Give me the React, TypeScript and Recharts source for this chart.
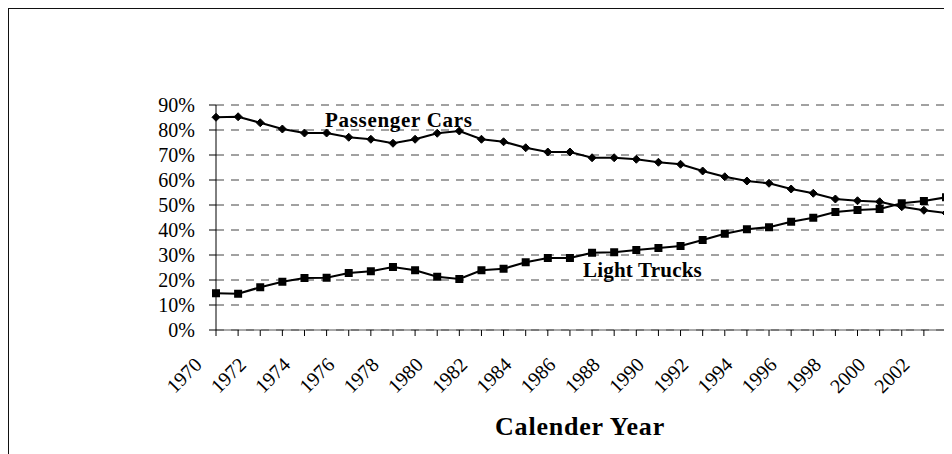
import { LineChart, Line, XAxis, YAxis, CartesianGrid } from "recharts";

const years = [
  1970, 1971, 1972, 1973, 1974, 1975, 1976, 1977, 1978, 1979, 1980, 1981,
  1982, 1983, 1984, 1985, 1986, 1987, 1988, 1989, 1990, 1991, 1992, 1993,
  1994, 1995, 1996, 1997, 1998, 1999, 2000, 2001, 2002, 2003,
];

// share of sales, percent
const passengerCars = [
  85.1, 85.3, 82.9, 80.4, 78.8, 78.8, 77.1, 76.3, 74.7, 76.3, 78.7, 79.6,
  76.3, 75.3, 72.9, 71.2, 71.2, 68.9, 68.9, 68.3, 67.1, 66.3, 63.6, 61.3,
  59.6, 58.7, 56.4, 54.7, 52.4, 51.7, 51.3, 49.3, 47.9, 46.8,
];

const lightTrucks = [
  14.7, 14.5, 17.1, 19.3, 20.8, 20.9, 22.8, 23.5, 25.2, 23.9, 21.3, 20.4,
  23.9, 24.5, 27.1, 28.8, 28.8, 30.9, 31.1, 32.0, 32.8, 33.6, 36.0, 38.5,
  40.3, 41.1, 43.3, 44.9, 47.2, 48.0, 48.4, 50.7, 51.6, 53.1,
];

const xTickLabels = [
  1970, 1972, 1974, 1976, 1978, 1980, 1982, 1984, 1986, 1988, 1990, 1992,
  1994, 1996, 1998, 2000, 2002,
];

const yTicks = [0, 10, 20, 30, 40, 50, 60, 70, 80, 90];

const data = years.map((year, i) => ({
  year,
  cars: passengerCars[i],
  trucks: lightTrucks[i],
}));

const FONT = '"Liberation Serif", "Times New Roman", serif';

function Diamond(props: any) {
  const { cx, cy } = props;
  if (cx == null || cy == null) return null;
  const r = 4;
  return (
    <path
      d={`M${cx},${cy - r} L${cx + r},${cy} L${cx},${cy + r} L${cx - r},${cy} Z`}
      fill="#000"
      stroke="#000"
    />
  );
}

function Square(props: any) {
  const { cx, cy } = props;
  if (cx == null || cy == null) return null;
  return <rect x={cx - 4} y={cy - 4} width={8} height={8} fill="#000" />;
}

function YearTick(props: any) {
  const { x, y, payload } = props;
  if (!xTickLabels.includes(payload.value)) return <g />;
  return (
    <text
      transform={`translate(${x - 13},${y + 28}) rotate(-45)`}
      textAnchor="end"
      fontFamily={FONT}
      fontSize={20}
      fill="#000"
    >
      {payload.value}
    </text>
  );
}

export default function App() {
  return (
    <div
      style={{
        position: "relative",
        width: 944,
        height: 446,
        boxSizing: "border-box",
        borderLeft: "1px solid #111",
        borderTop: "1px solid #111",
        background: "#fff",
      }}
    >
      <LineChart
        width={943}
        height={445}
        data={data}
        margin={{ top: 96, right: 6, bottom: 64, left: 0 }}
      >
        <CartesianGrid
          horizontal
          vertical={false}
          stroke="#444"
          strokeDasharray="8 7"
        />
        <XAxis
          dataKey="year"
          type="number"
          domain={[1970, 2003]}
          ticks={years}
          interval={0}
          height={60}
          tickSize={6}
          axisLine={{ stroke: "#555" }}
          tickLine={{ stroke: "#000" }}
          tick={<YearTick />}
        />
        <YAxis
          width={207}
          domain={[0, 90]}
          ticks={yTicks}
          interval={0}
          tickSize={7}
          tickMargin={14}
          tickFormatter={(v) => `${v}%`}
          axisLine={{ stroke: "#000" }}
          tickLine={{ stroke: "#000" }}
          tick={{ fontFamily: FONT, fontSize: 20, fill: "#000" }}
        />
        <Line
          dataKey="cars"
          stroke="#000"
          strokeWidth={2.2}
          dot={<Diamond />}
          isAnimationActive={false}
        />
        <Line
          dataKey="trucks"
          stroke="#000"
          strokeWidth={2.2}
          dot={<Square />}
          isAnimationActive={false}
        />
      </LineChart>
      <svg
        width={943}
        height={445}
        style={{ position: "absolute", left: 0, top: 0, pointerEvents: "none" }}
      >
        <text
          x={316}
          y={118}
          fontFamily={FONT}
          fontSize={21}
          fontWeight="bold"
          letterSpacing={0.7}
        >
          Passenger Cars
        </text>
        <text
          x={574}
          y={268}
          fontFamily={FONT}
          fontSize={21}
          fontWeight="bold"
          letterSpacing={0.2}
        >
          Light Trucks
        </text>
        <text
          x={571}
          y={426}
          textAnchor="middle"
          fontFamily={FONT}
          fontSize={26}
          fontWeight="bold"
          letterSpacing={0.8}
        >
          Calender Year
        </text>
      </svg>
    </div>
  );
}
